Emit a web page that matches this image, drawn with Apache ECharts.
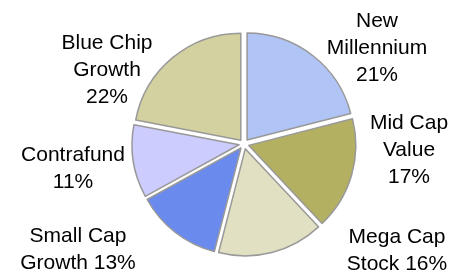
<!DOCTYPE html>
<html>
<head>
<meta charset="utf-8">
<script src="https://cdn.jsdelivr.net/npm/echarts@6/dist/echarts.min.js"></script>
<style>
  html, body { margin: 0; padding: 0; background: #ffffff; }
  #chart { width: 457px; height: 273px; }
</style>
</head>
<body>
<div id="chart"></div>
<script>
// fund names (line breaks as in the picture)
const funds = ['New\nMillennium', 'Mid Cap\nValue', 'Mega Cap\nStock', 'Small Cap\nGrowth', 'Contrafund', 'Blue Chip\nGrowth']
// share of each fund, %
const shares = [21, 17, 16, 13, 11, 22]
// funds whose percent sits on the same line as the name
const inlinePct = ['Mega Cap\nStock', 'Small Cap\nGrowth']
const colors = ['#b0c4f5', '#b4b062', '#e2e0c2', '#6b8aee', '#ccccfe', '#d3d19f']
// label block centres
const labelPos = [[377, 48], [409, 150], [397, 251], [78, 250], [73, 169], [107, 70]]

const myChart = echarts.init(document.getElementById('chart'))

const pieData = funds.map((name, i) => ({
  name: name,
  value: shares[i],
  selected: true,
  itemStyle: { color: colors[i] }
}))

// labels: name + percent, centred on each block position
const total = shares.reduce((a, b) => a + b, 0)
const labels = funds.map((name, i) => ({
  type: 'text',
  x: labelPos[i][0],
  y: labelPos[i][1],
  silent: true,
  style: {
    text: name + (inlinePct.includes(name) ? ' ' : '\n') + Math.round(shares[i] / total * 100) + '%',
    fill: '#000000',
    font: '21px "Liberation Sans", Arial, Helvetica, sans-serif',
    lineHeight: 27,
    align: 'center',
    verticalAlign: 'middle'
  }
}))

const option = {
  animation: false,
  graphic: labels,
  series: [
    {
      type: 'pie',
      center: [244, 144],
      radius: [0, 107],
      startAngle: 90,
      clockwise: true,
      selectedMode: 'multiple',
      selectedOffset: 5,
      itemStyle: {
        borderColor: '#999999',
        borderWidth: 1.5
      },
      emphasis: { disabled: true },
      label: { show: false },
      labelLine: { show: false },
      data: pieData
    }
  ]
}

myChart.setOption(option)
</script>
</body>
</html>
